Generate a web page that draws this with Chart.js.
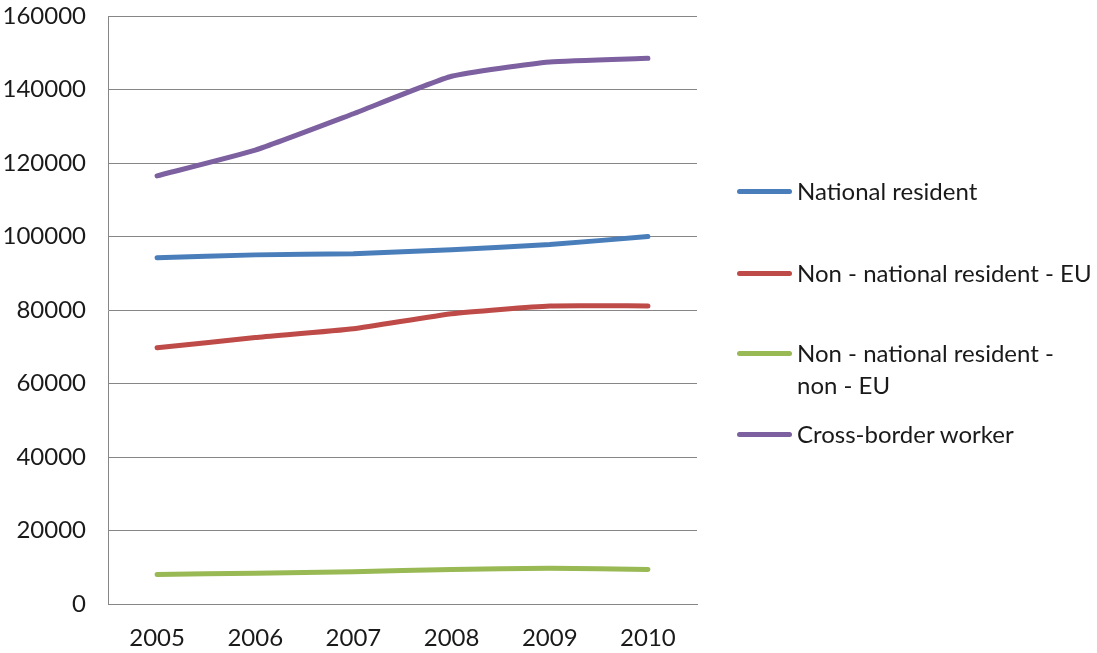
<!DOCTYPE html>
<html>
<head>
<meta charset="utf-8">
<script src="https://cdn.jsdelivr.net/npm/chart.js@4"></script>
<style>
html,body{margin:0;padding:0;background:#fff;}
#wrap{position:relative;width:1097px;height:653px;}
#legend{position:absolute;left:737px;top:0;font-family:Lato,'Open Sans',sans-serif;font-size:24px;color:#1a1a1a;}
.item{position:absolute;left:0;white-space:nowrap;}
.sw{position:absolute;left:0;width:55px;height:5px;border-radius:3px;}
.tx{position:absolute;left:60px;line-height:32px;}
</style>
</head>
<body>
<div id="wrap"><canvas id="c" width="1097" height="653"></canvas><div id="legend"></div></div>
<script>
const categories = ['2005','2006','2007','2008','2009','2010'];
const seriesNames = ['National resident','Non - national resident - EU','Non - national resident -\nnon - EU','Cross-border worker'];
const nationalResident = [94200, 95000, 95300, 96400, 97800, 100000];
const nonNationalEU = [69700, 72500, 74900, 79000, 81100, 81100];
const nonNationalNonEU = [8000, 8400, 8800, 9400, 9700, 9400];
const crossBorder = [116500, 123500, 133400, 143600, 147500, 148500];
const yTicks = [0, 20000, 40000, 60000, 80000, 100000, 120000, 140000, 160000];
const colors = ['#4a7ebb', '#be4b48', '#98b954', '#7d60a0'];
const allSeries = [nationalResident, nonNationalEU, nonNationalNonEU, crossBorder];

const font = {family: 'Lato, "Open Sans", sans-serif', size: 24};
new Chart(document.getElementById('c'), {
  type: 'line',
  data: {
    labels: categories,
    datasets: allSeries.map((d, i) => ({
      label: seriesNames[i].replace('\n', ' '),
      data: d,
      borderColor: colors[i],
      backgroundColor: colors[i],
      borderWidth: 5,
      pointRadius: 0,
      tension: 0.15,
      borderCapStyle: 'round',
      borderJoinStyle: 'round'
    }))
  },
  options: {
    responsive: false,
    animation: false,
    layout: {padding: {left: 0, right: 400, top: 0, bottom: 0}},
    plugins: {legend: {display: false}, tooltip: {enabled: false}},
    scales: {
      x: {
        offset: true,
        grid: {display: false, drawTicks: false},
        border: {display: true, color: '#868686', width: 1},
        ticks: {font: font, color: '#1a1a1a', padding: 20, maxRotation: 0},
        afterFit: s => { s.height = 49; }
      },
      y: {
        min: 0, max: 160000,
        afterBuildTicks: s => { s.ticks = yTicks.map(v => ({value: v})); },
        grid: {color: '#868686', lineWidth: 1, drawTicks: false},
        border: {display: true, color: '#868686', width: 1},
        ticks: {font: font, color: '#1a1a1a', padding: 22, callback: v => String(v)},
        afterFit: s => { s.width = 108; s.paddingTop = 16; }
      }
    }
  }
});

const legend = document.getElementById('legend');
const centers = [191, 273, 353, 434];
seriesNames.forEach((name, i) => {
  const item = document.createElement('div');
  item.className = 'item';
  item.style.top = centers[i] + 'px';
  const sw = document.createElement('div');
  sw.className = 'sw';
  sw.style.background = colors[i];
  sw.style.top = '-2.5px';
  const tx = document.createElement('div');
  tx.className = 'tx';
  tx.style.top = '-16px';
  tx.innerHTML = name.split('\n').map(s => s.replace(/&/g,'&amp;').replace(/</g,'&lt;')).join('<br>');
  item.appendChild(sw);
  item.appendChild(tx);
  legend.appendChild(item);
});
</script>
</body>
</html>
